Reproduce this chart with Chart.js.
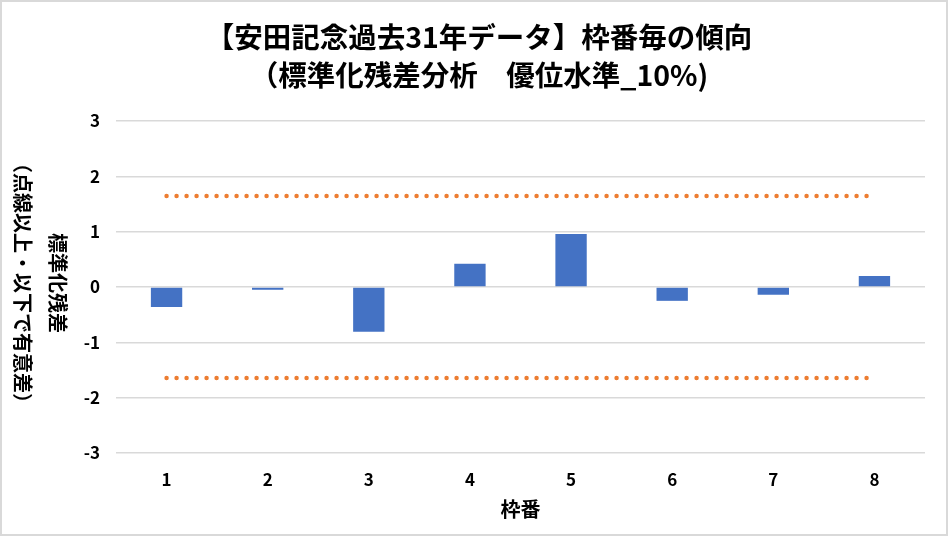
<!DOCTYPE html>
<html>
<head>
<meta charset="utf-8">
<script src="https://cdn.jsdelivr.net/npm/chart.js@4"></script>
<style>
    html, body { margin: 0; padding: 0; background: #fff; }
    #wrap { width: 949px; height: 536px; position: relative; }
</style>
</head>
<body>
<div id="wrap"><canvas id="residualChart" width="949" height="536"></canvas></div>
<script>
// ============================================
// DATA
// ============================================
const frameNumbers = ['1', '2', '3', '4', '5', '6', '7', '8'];
const residuals = [-0.36, -0.05, -0.81, 0.42, 0.96, -0.25, -0.14, 0.20];
const upperLimit = [1.645, 1.645, 1.645, 1.645, 1.645, 1.645, 1.645, 1.645];
const lowerLimit = [-1.645, -1.645, -1.645, -1.645, -1.645, -1.645, -1.645, -1.645];
const yTickValues = [-3, -2, -1, 0, 1, 2, 3];

const titleLines = ['【安田記念過去31年データ】枠番毎の傾向', '（標準化残差分析　優位水準_10%)'];
const yTitleLines = ['標準化残差', '（点線以上・以下で有意差）'];
const xTitle = '枠番';

const JP_FONT = '"Noto Sans CJK JP", "Noto Sans", sans-serif';

// Title, rotated y-axis title and outer frame
const decorPlugin = {
    id: 'decor',
    afterDraw(chart) {
        const ctx = chart.ctx;
        ctx.save();
        ctx.fillStyle = '#000';
        ctx.textAlign = 'center';
        ctx.textBaseline = 'middle';

        ctx.font = 'bold 28.5px ' + JP_FONT;
        ctx.fillText(titleLines[0], 479, 37);
        ctx.fillText(titleLines[1], 479, 75);

        // y title reads top-to-bottom (rotated clockwise)
        ctx.font = 'bold 20px ' + JP_FONT;
        const midY = (chart.chartArea.top + chart.chartArea.bottom) / 2;
        ctx.translate(58, midY - 4);
        ctx.rotate(Math.PI / 2);
        ctx.fillText(yTitleLines[0], 0, 0);
        ctx.fillText(yTitleLines[1], 0, 35);
        ctx.restore();

        ctx.save();
        ctx.strokeStyle = '#d9d9d9';
        ctx.lineWidth = 2;
        ctx.strokeRect(1, 1, 946, 534);
        ctx.restore();
    }
};

document.addEventListener('DOMContentLoaded', () => {
    const ctx = document.getElementById('residualChart').getContext('2d');

    const limitStyle = {
        type: 'line',
        borderColor: '#ED7D31',
        borderWidth: 4.5,
        borderDash: [0, 10],
        borderCapStyle: 'round',
        pointRadius: 0,
        fill: false,
        tension: 0
    };

    new Chart(ctx, {
        type: 'bar',
        data: {
            labels: frameNumbers,
            datasets: [
                {
                    label: '標準化残差',
                    data: residuals,
                    backgroundColor: '#4472C4',
                    barPercentage: 0.31,
                    categoryPercentage: 1.0,
                    order: 2
                },
                Object.assign({ label: '上限', data: upperLimit, order: 1 }, limitStyle),
                Object.assign({ label: '下限', data: lowerLimit, order: 1 }, limitStyle)
            ]
        },
        options: {
            responsive: false,
            animation: false,
            layout: { padding: { top: 121, right: 24, left: 0, bottom: 0 } },
            plugins: {
                legend: { display: false },
                title: { display: false },
                tooltip: { enabled: false }
            },
            scales: {
                x: {
                    grid: { display: false, drawTicks: false },
                    border: { display: false },
                    ticks: {
                        color: '#000',
                        padding: 16,
                        font: { family: JP_FONT, size: 17, weight: 'bold' }
                    },
                    title: {
                        display: true,
                        text: xTitle,
                        color: '#000',
                        padding: { top: 0, bottom: 15 },
                        font: { family: JP_FONT, size: 20, weight: 'bold' }
                    },
                    afterFit(scale) { scale.height = 83; }
                },
                y: {
                    min: -3,
                    max: 3,
                    afterBuildTicks(scale) {
                        scale.ticks = yTickValues.map(v => ({ value: v }));
                    },
                    grid: { color: '#d9d9d9', lineWidth: 1.5, drawTicks: false },
                    border: { display: false },
                    ticks: {
                        color: '#000',
                        padding: 16,
                        font: { family: JP_FONT, size: 17, weight: 'bold' }
                    },
                    afterFit(scale) { scale.width = 116; }
                }
            }
        },
        plugins: [decorPlugin]
    });
});
</script>
</body>
</html>
